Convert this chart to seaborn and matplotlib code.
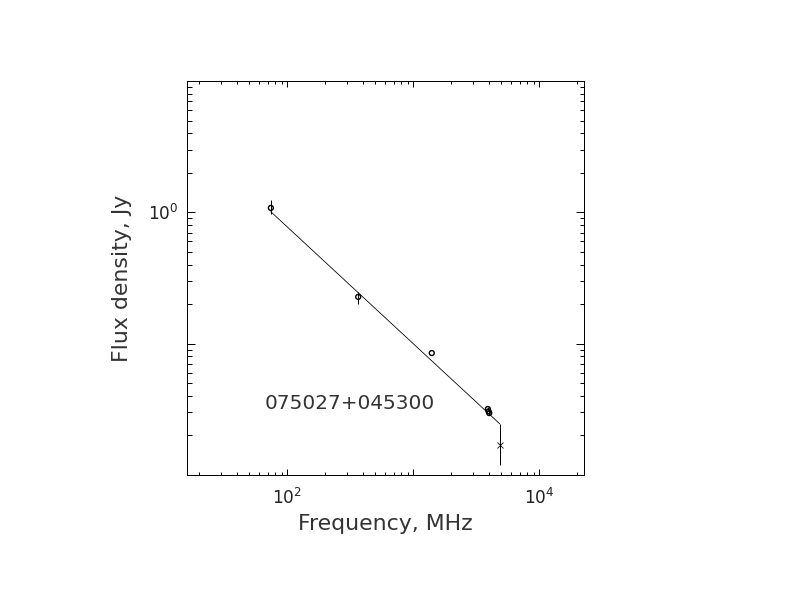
import numpy as np
import pandas as pd
import matplotlib
matplotlib.use("Agg")
import matplotlib.pyplot as plt
import matplotlib.ticker as mticker
import seaborn as sns

# Spectrum of 075027+045300
source_name = "075027+045300"

freq_mhz = [74, 365, 1400, 3900, 3950, 4000]
flux_jy = [1.08, 0.227, 0.0848, 0.0318, 0.0305, 0.0296]
flux_err_lo = [0.11, 0.025, 0.0, 0.0012, 0.0012, 0.0012]
flux_err_hi = [0.15, 0.021, 0.0, 0.0012, 0.0012, 0.0012]

# point plotted with a cross
cross_freq = [4850]
cross_flux = [0.0169]
cross_err_lo = [0.0049]
cross_err_hi = [0.0076]

# power-law fit
fit_freq = [74, 4850]
fit_flux = [1.01, 0.0245]

x_limits = (15.9, 22700)
y_limits = (0.01, 10)
x_major = [10, 100, 1000, 10000]
x_major_labels = ["", "$10^{2}$", "", "$10^{4}$"]
y_major = [0.01, 0.1, 1, 10]
y_major_labels = ["", "", "$10^{0}$", ""]

sns.set_theme(style="ticks")
plt.rcParams["font.family"] = ["DejaVu Sans"]
plt.rcParams["mathtext.fontset"] = "dejavusans"

fig = plt.figure(figsize=(11, 8.5), dpi=72)
ax = fig.add_axes([0.2357, 0.2239, 0.502, 0.6438])

df_pts = pd.DataFrame({"freq": freq_mhz, "flux": flux_jy})
df_fit = pd.DataFrame({"freq": fit_freq, "flux": fit_flux})

sns.lineplot(data=df_fit, x="freq", y="flux", ax=ax, color="black", lw=0.8)

ax.errorbar(freq_mhz, flux_jy, yerr=[flux_err_lo, flux_err_hi], fmt="none",
            ecolor="black", elinewidth=1.0, capsize=0)
sns.scatterplot(data=df_pts, x="freq", y="flux", ax=ax, marker="o", s=24,
                facecolor="none", edgecolor="black", linewidth=1.4, zorder=3)

ax.errorbar(cross_freq, cross_flux, yerr=[cross_err_lo, cross_err_hi], fmt="x",
            color="black", ms=6, mew=0.8, elinewidth=1.0, capsize=0)

ax.set_xscale("log")
ax.set_yscale("log")
ax.set_xlim(*x_limits)
ax.set_ylim(*y_limits)

ax.xaxis.set_major_locator(mticker.FixedLocator(x_major))
ax.xaxis.set_major_formatter(mticker.FixedFormatter(x_major_labels))
ax.yaxis.set_major_locator(mticker.FixedLocator(y_major))
ax.yaxis.set_major_formatter(mticker.FixedFormatter(y_major_labels))
ax.xaxis.set_minor_locator(mticker.LogLocator(base=10, subs=np.arange(2, 10), numticks=20))
ax.yaxis.set_minor_locator(mticker.LogLocator(base=10, subs=np.arange(2, 10), numticks=20))
ax.xaxis.set_minor_formatter(mticker.NullFormatter())
ax.yaxis.set_minor_formatter(mticker.NullFormatter())

ax.tick_params(axis="both", which="both", direction="in", top=True, right=True,
               color="black", labelcolor="#222222", labelsize=17)
ax.tick_params(axis="x", which="major", length=6, width=1, pad=13)
ax.tick_params(axis="x", which="minor", length=3, width=1)
ax.tick_params(axis="y", which="major", length=8, width=1, pad=8)
ax.tick_params(axis="y", which="minor", length=4.5, width=1)

for sp in ax.spines.values():
    sp.set_color("black")
    sp.set_linewidth(1.0)

ax.set_xlabel("Frequency, MHz", fontsize=22, color="#333333", labelpad=6)
ax.set_ylabel("Flux density, Jy", fontsize=22, color="#333333", labelpad=16)

ax.text(66.5, 0.0348, source_name, ha="left", va="center", fontsize=20, color="#333333")

fig.savefig("out.png", dpi=72, facecolor="white")
